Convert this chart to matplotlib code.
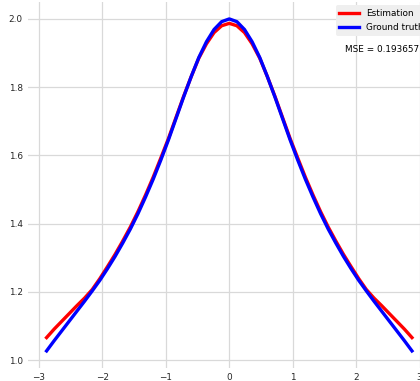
import matplotlib
matplotlib.use("Agg")
import matplotlib.pyplot as plt

# values (x, estimation, ground truth)
x_vals = [-2.88, -2.76, -2.64, -2.52, -2.40, -2.28, -2.16, -2.04, -1.92, -1.80,
          -1.68, -1.56, -1.44, -1.32, -1.20, -1.08, -0.96, -0.84, -0.72, -0.60,
          -0.48, -0.36, -0.24, -0.12, 0.00, 0.12, 0.24, 0.36, 0.48, 0.60,
          0.72, 0.84, 0.96, 1.08, 1.20, 1.32, 1.44, 1.56, 1.68, 1.80,
          1.92, 2.04, 2.16, 2.28, 2.40, 2.52, 2.64, 2.76, 2.88]
estimation = [1.066, 1.091, 1.114, 1.137, 1.160, 1.182, 1.207, 1.239, 1.274, 1.310,
              1.349, 1.390, 1.435, 1.484, 1.536, 1.592, 1.649, 1.711, 1.773, 1.831,
              1.885, 1.927, 1.960, 1.980, 1.987, 1.980, 1.960, 1.927, 1.885, 1.831,
              1.773, 1.711, 1.649, 1.592, 1.536, 1.484, 1.435, 1.390, 1.349, 1.310,
              1.274, 1.239, 1.207, 1.182, 1.160, 1.137, 1.114, 1.091, 1.066]
ground_truth = [1.027, 1.057, 1.086, 1.115, 1.144, 1.173, 1.203, 1.234, 1.268, 1.304,
                1.343, 1.384, 1.429, 1.478, 1.530, 1.586, 1.645, 1.708, 1.771, 1.831,
                1.887, 1.933, 1.969, 1.992, 2.000, 1.992, 1.969, 1.933, 1.887, 1.831,
                1.771, 1.708, 1.645, 1.586, 1.530, 1.478, 1.429, 1.384, 1.343, 1.304,
                1.268, 1.234, 1.203, 1.173, 1.144, 1.115, 1.086, 1.057, 1.027]
mse_text = "MSE = 0.193657"

fs = 6.4
fig = plt.figure(figsize=(4.2, 3.81), dpi=100)
ax = fig.add_axes([0.0674, 0.0354, 0.957, 0.9585])

ax.plot(x_vals, estimation, color="red", lw=2.4, label="Estimation")
ax.plot(x_vals, ground_truth, color="blue", lw=2.4, label="Ground truth")

ax.grid(True, color="#d9d9d9", lw=0.9)
ax.set_axisbelow(True)
for s in ax.spines.values():
    s.set_visible(False)
ax.tick_params(length=0, labelsize=fs, labelcolor="#262626", pad=4)
ax.set_xticks([-3, -2, -1, 0, 1, 2, 3])
ax.set_yticks([1.0, 1.2, 1.4, 1.6, 1.8, 2.0])

leg = ax.legend(loc="upper right", fontsize=fs, facecolor="#efefef",
                edgecolor="none", framealpha=1, fancybox=True,
                borderaxespad=0.35, handlelength=2.2, labelspacing=0.6)
ax.text(0.788, 0.872, mse_text, transform=ax.transAxes, fontsize=fs,
        va="center", ha="left", color="black")

fig.savefig("out.png", dpi=100)
